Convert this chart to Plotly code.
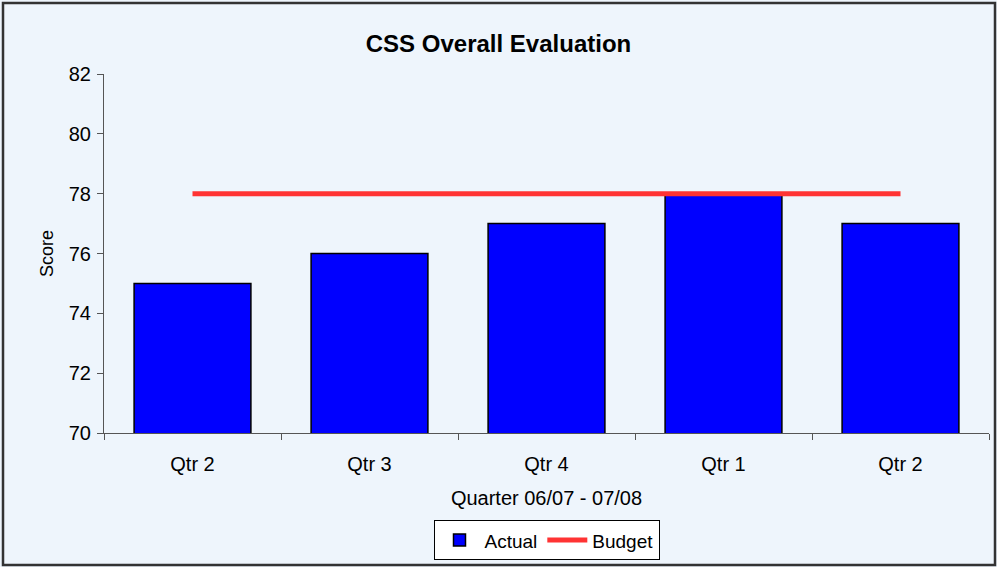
import plotly.graph_objects as go

# data
quarters = ["Qtr 2", "Qtr 3", "Qtr 4", "Qtr 1", "Qtr 2"]
actual = [75, 76, 77, 78, 77]
budget = [78, 78, 78, 78, 78]
y_ticks = [70, 72, 74, 76, 78, 80, 82]

xpos = list(range(len(quarters)))
FONT = "Liberation Sans, Arial, sans-serif"
BG = "#EEF5FC"

fig = go.Figure()

fig.add_trace(go.Bar(
    x=xpos, y=actual, name="Actual",
    marker=dict(color="#0000FF", line=dict(color="#000000", width=1.5)),
    width=0.66,
))

fig.add_trace(go.Scatter(
    x=xpos, y=budget, name="Budget", mode="lines",
    line=dict(color="#FF3333", width=5),
))

# outer chart border (Excel style frame)
pw, ph = 997 - 104 - 8, 433 - 74
fig.add_shape(
    type="rect", xref="paper", yref="paper",
    x0=(3 - 104) / pw, x1=(995 - 104) / pw,
    y0=(433 - 565) / ph, y1=(433 - 3) / ph,
    line=dict(color="#333333", width=2.5), layer="below",
)

fig.update_layout(
    width=997, height=567,
    paper_bgcolor=BG, plot_bgcolor=BG,
    font=dict(family=FONT, color="#000000", size=19),
    margin=dict(l=104, r=8, t=74, b=134, autoexpand=False),
    title=dict(text="<b>CSS Overall Evaluation</b>", x=0.5, xanchor="center",
               y=1 - 44 / 567, yanchor="middle", font=dict(size=24)),
    bargap=0.34,
    showlegend=True,
    legend=dict(orientation="h", x=0.5, xanchor="center", y=-0.243, yanchor="top",
                bgcolor="#FFFFFF", bordercolor="#000000", borderwidth=1,
                font=dict(size=19), itemwidth=40, traceorder="normal",
                tracegroupgap=0),
)

fig.update_xaxes(
    range=[-0.5, 4.5], tickvals=xpos, ticktext=quarters, ticks="",
    showgrid=False, zeroline=False, showline=True, linecolor="#555555", linewidth=1,
    minor=dict(tickvals=[i - 0.5 for i in range(len(quarters) + 1)],
               ticks="outside", ticklen=6, tickcolor="#555555", showgrid=False),
    ticklabelstandoff=13, automargin=False,
    title=dict(text="Quarter 06/07 - 07/08", standoff=16, font=dict(size=20)),
    tickfont=dict(size=20),
)

fig.update_yaxes(
    range=[70, 82], tickvals=y_ticks, ticks="outside", ticklen=6, tickcolor="#555555",
    showgrid=False, zeroline=False, showline=True, linecolor="#555555", linewidth=1,
    ticklabelstandoff=2, automargin=False,
    title=dict(text="Score", standoff=10, font=dict(size=18)),
    tickfont=dict(size=20),
)

fig.write_html("out.html", config={"displayModeBar": False},
               post_script="document.body.style.margin='0';")
